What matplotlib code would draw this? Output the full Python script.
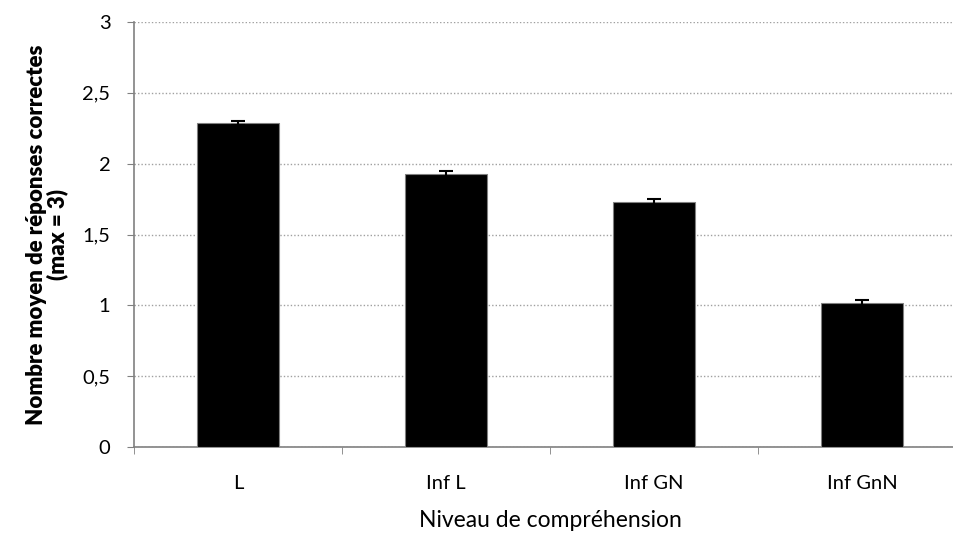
import matplotlib.pyplot as plt
import matplotlib.ticker as mticker

categories = ["L", "Inf L", "Inf GN", "Inf GnN"]
means = [2.287, 1.927, 1.729, 1.017]
errors = [0.012, 0.02, 0.02, 0.022]
y_ticks = [0, 0.5, 1, 1.5, 2, 2.5, 3]
y_tick_labels = ["0", "0,5", "1", "1,5", "2", "2,5", "3"]

plt.rcParams['font.family'] = ['Lato', 'DejaVu Sans']

fig = plt.figure(figsize=(9.54, 5.33), dpi=100)
# plot area runs past the right edge of the figure, like the original
ax = fig.add_axes([134 / 954, 86 / 533, 832 / 954, 425 / 533])

x = list(range(len(categories)))
ax.bar(x, means, width=0.395, color='black', edgecolor='#808080', linewidth=0.8, zorder=3)
ax.errorbar(x, means, yerr=errors, fmt='none', ecolor='black', elinewidth=1.5,
            capsize=5, capthick=1.5, zorder=4)

ax.set_xlim(-0.5, len(categories) - 0.5)
ax.set_ylim(0, 3)
ax.set_yticks(y_ticks)
ax.set_yticklabels(y_tick_labels)
ax.set_xticks(x)
ax.set_xticklabels(categories)
ax.xaxis.set_minor_locator(mticker.FixedLocator([i - 0.5 for i in range(len(categories) + 1)]))
ax.tick_params(axis='x', which='major', length=0, pad=20, labelsize=14.5)
ax.tick_params(axis='x', which='minor', length=5, color='#808080')
ax.tick_params(axis='y', length=5, color='#808080', pad=12, labelsize=14.5)

ax.grid(axis='y', linestyle=(0, (1, 1.5)), color='#a0a0a0', linewidth=1, zorder=0)
ax.set_axisbelow(True)

for side in ['top', 'right']:
    ax.spines[side].set_visible(False)
for side in ['left', 'bottom']:
    ax.spines[side].set_color('#808080')
    ax.spines[side].set_linewidth(1.2)

ax.set_xlabel("Niveau de compréhension", fontsize=16.5, labelpad=13)
ax.set_ylabel("Nombre moyen de réponses correctes\n(max = 3)", fontsize=16,
              fontweight='heavy', labelpad=10, linespacing=1.0)

fig.savefig("out.png", dpi=100)
